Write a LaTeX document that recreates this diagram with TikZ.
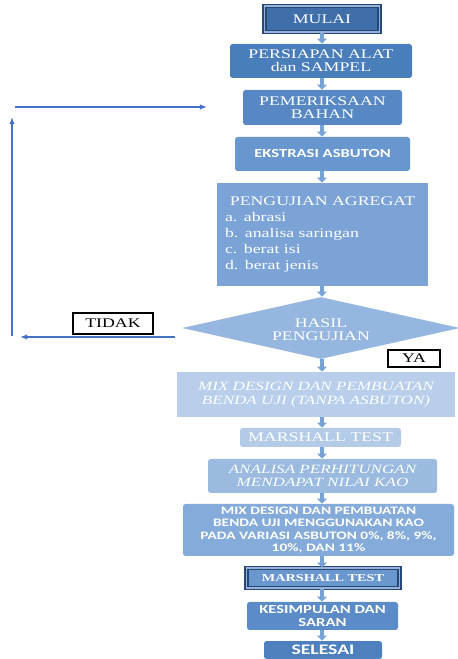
\documentclass[tikz,border=0pt]{standalone}
\usepackage{fontspec}
\setmainfont{Liberation Serif}[FakeStretch=1.35]
\newfontfamily\calibrisans{Carlito}[FakeStretch=1.35]
\usetikzlibrary{shapes.geometric}
\usetikzlibrary{arrows.meta}

\definecolor{mulaic}{RGB}{63,110,168}
\definecolor{framec}{RGB}{38,72,120}
\definecolor{framelight}{RGB}{150,178,215}
\definecolor{persiapanc}{RGB}{74,126,187}
\definecolor{periksac}{RGB}{87,136,196}
\definecolor{ekstrasic}{RGB}{104,150,206}
\definecolor{ujic}{RGB}{123,163,214}
\definecolor{hasilc}{RGB}{149,182,223}
\definecolor{mixc}{RGB}{184,206,234}
\definecolor{marshallac}{RGB}{180,203,232}
\definecolor{analisac}{RGB}{154,186,223}
\definecolor{kaoc}{RGB}{132,171,217}
\definecolor{marshallbc}{RGB}{106,151,206}
\definecolor{simpulc}{RGB}{92,140,200}
\definecolor{selesaic}{RGB}{77,128,189}
\definecolor{blockc}{RGB}{118,162,214}
\definecolor{loopc}{RGB}{68,114,196}

\tikzset{
  flowbox/.style={rectangle, rounded corners=1.5pt, inner sep=0pt, text=white,
    align=center, font=\fontsize{7.5}{7.6}\selectfont},
  italbox/.style={flowbox, font=\itshape\fontsize{7.2}{7.6}\selectfont},
  sansbox/.style={flowbox, font=\calibrisans\bfseries\fontsize{7}{7.4}\selectfont},
  bevelbox/.style={flowbox, draw=framec, line width=0.6pt, double=framelight,
    double distance=1.1pt, rounded corners=0pt},
  labelbox/.style={rectangle, draw=black, line width=0.8pt, fill=white, inner sep=0pt,
    font=\fontsize{7.5}{7.6}\selectfont},
  blockarr/.style={draw=blockc, line width=2.8pt, -{Triangle[width=5.5pt,length=2.8pt]}},
  looparr/.style={draw=loopc, line width=0.7pt, -{Latex[length=4pt,width=3pt]}}
}

\begin{document}
\begin{tikzpicture}
        \useasboundingbox (0,0) rectangle (9.16,13.18);
        \coordinate (axis) at (6.44,0);
        % main column
        \node[bevelbox, fill=mulaic, minimum width=2.30cm, minimum height=0.52cm]
              (mulai)       at (6.44,12.80) {MULAI};
        \node[flowbox, fill=persiapanc, minimum width=3.64cm, minimum height=0.68cm]
              (persiapan)   at (6.42,11.96) {PERSIAPAN ALAT\\dan SAMPEL};
        \node[flowbox, fill=periksac, minimum width=3.18cm, minimum height=0.70cm]
              (pemeriksaan) at (6.45,11.03) {PEMERIKSAAN\\BAHAN};
        \node[sansbox, fill=ekstrasic, minimum width=3.50cm, minimum height=0.68cm]
              (ekstrasi)    at (6.45,10.10) {EKSTRASI ASBUTON};
        \node[flowbox, fill=ujic, rounded corners=0pt, minimum width=4.22cm, minimum height=2.06cm,
              text width=3.90cm, align=left, font=\fontsize{7.5}{9}\selectfont]
              (pengujian)   at (6.45,8.49)
              {\null\hfill PENGUJIAN AGREGAT\hfill\null\\a. abrasi\\b. analisa saringan\\c. berat isi\\d. berat jenis};
        \node[diamond, fill=hasilc, text=white, inner sep=0pt, aspect=4.5,
              minimum width=5.56cm, minimum height=1.24cm, align=center,
              font=\fontsize{7.5}{7.6}\selectfont]
              (hasil)       at (6.42,6.62) {\\[-1pt]HASIL\\PENGUJIAN};
        \node[italbox, fill=mixc, rounded corners=0pt, minimum width=5.56cm, minimum height=0.90cm]
              (mixdesign)   at (6.32,5.29) {MIX DESIGN DAN PEMBUATAN\\BENDA UJI (TANPA ASBUTON)};
        \node[flowbox, fill=marshallac, minimum width=3.22cm, minimum height=0.38cm]
              (marshalla)   at (6.41,4.43) {MARSHALL TEST};
        \node[italbox, fill=analisac, minimum width=4.58cm, minimum height=0.68cm]
              (analisa)     at (6.45,3.66) {ANALISA PERHITUNGAN\\MENDAPAT NILAI KAO};
        \node[sansbox, fill=kaoc, minimum width=5.42cm, minimum height=1.04cm,
              font=\calibrisans\bfseries\fontsize{6.5}{7.1}\selectfont]
              (kao)         at (6.37,2.58)
              {MIX DESIGN DAN PEMBUATAN\\BENDA UJI MENGGUNAKAN KAO\\PADA VARIASI ASBUTON 0\%, 8\%, 9\%,\\10\%, DAN 11\%};
        \node[bevelbox, fill=marshallbc, minimum width=3.06cm, minimum height=0.40cm,
              font=\bfseries\fontsize{6}{6.5}\selectfont]
              (marshallb)   at (6.46,1.62) {MARSHALL TEST};
        \node[sansbox, fill=simpulc, minimum width=3.02cm, minimum height=0.56cm]
              (kesimpulan)  at (6.45,0.86) {KESIMPULAN DAN\\SARAN};
        \node[sansbox, fill=selesaic, minimum width=2.36cm, minimum height=0.36cm,
              font=\calibrisans\bfseries\fontsize{8.3}{8.5}\selectfont]
              (selesai)     at (6.46,0.18) {SELESAI};
        % decision labels
        \node[labelbox, minimum width=1.60cm, minimum height=0.42cm] (tidak) at (2.26,6.71) {TIDAK};
        \node[labelbox, minimum width=1.04cm, minimum height=0.34cm] (ya)    at (8.28,6.01) {YA};
        % block arrows down the column
        \foreach \a/\b in {mulai/persiapan, persiapan/pemeriksaan, pemeriksaan/ekstrasi,
                           ekstrasi/pengujian, pengujian/hasil, hasil/mixdesign,
                           mixdesign/marshalla, marshalla/analisa, analisa/kao,
                           kao/marshallb, marshallb/kesimpulan, kesimpulan/selesai}
            \draw[blockarr] (axis |- \a.south) -- (axis |- \b.north);
        % loop back
        \coordinate (backa) at (3.50,6.44);
        \coordinate (backb) at (0.40,6.44);
        \coordinate (upa)   at (0.24,6.46);
        \coordinate (upb)   at (0.24,10.84);
        \coordinate (topa)  at (0.30,11.04);
        \coordinate (topb)  at (4.14,11.04);
        \draw[looparr] (backa) -- (backb);
        \draw[looparr] (upa)   -- (upb);
        \draw[looparr] (topa)  -- (topb);
    \end{tikzpicture}
\end{document}
